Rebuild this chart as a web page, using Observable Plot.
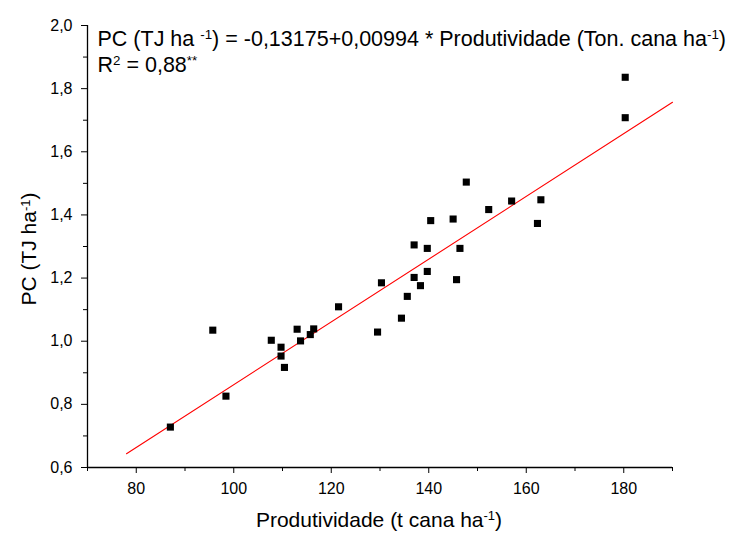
<!DOCTYPE html>
<html>
<head>
<meta charset="utf-8">
<script src="https://cdn.jsdelivr.net/npm/d3@7"></script>
<script src="https://cdn.jsdelivr.net/npm/@observablehq/plot@0.6"></script>
<style>
  html, body { margin: 0; padding: 0; background: #fff; }
</style>
</head>
<body>
<div id="chart"></div>
<script>
const productivity = [87.0, 95.7, 98.4, 107.7, 109.7, 109.7, 110.4, 113.0, 113.7, 115.7, 116.4, 121.5,
  129.5, 130.3, 134.4, 135.6, 137.0, 137.0, 138.3, 139.7, 139.7, 140.4, 145.0, 145.7, 146.4, 147.7,
  152.3, 157.0, 162.3, 163.0, 180.3, 180.3];
const pcValues = [0.728, 1.035, 0.826, 1.003, 0.981, 0.953, 0.917, 1.038, 1.001, 1.021, 1.039, 1.109,
  1.029, 1.185, 1.073, 1.142, 1.202, 1.305, 1.176, 1.221, 1.294, 1.382, 1.387, 1.195, 1.294, 1.504,
  1.417, 1.444, 1.373, 1.448, 1.836, 1.708];

// Regression reported on the chart
const intercept = -0.13175;
const slope = 0.00994;
const fitRange = [78, 190];

// Axes
const xMajorTicks = [80, 100, 120, 140, 160, 180];
const xMinorTicks = [70, 90, 110, 130, 150, 170, 190];
const yMajorTicks = [0.6, 0.8, 1.0, 1.2, 1.4, 1.6, 1.8, 2.0];
const yMinorTicks = [0.7, 0.9, 1.1, 1.3, 1.5, 1.7, 1.9];
const xDomain = [70, 190];
const yDomain = [0.6, 2.0];

const points = productivity.map((x, i) => ({x, y: pcValues[i]}));
const fitLine = fitRange.map(x => ({x, y: intercept + slope * x}));
const fmtComma = v => d3.format(".1f")(v).replace(".", ",");

const FONT = "'Liberation Sans', Arial, Helvetica, sans-serif";

const plot = Plot.plot({
  width: 734,
  height: 536,
  marginLeft: 87,
  marginRight: 62,
  marginTop: 25,
  marginBottom: 69,
  style: {fontFamily: FONT, fontSize: "16px", color: "#000", background: "#fff", overflow: "visible"},
  x: {domain: xDomain},
  y: {domain: yDomain},
  marks: [
    Plot.axisX(xMinorTicks, {tickSize: 4, tickFormat: () => "", label: null, stroke: "#000"}),
    Plot.axisX(xMajorTicks, {tickSize: 6, tickPadding: 9, tickFormat: d => String(d), label: null, stroke: "#000", fill: "#000"}),
    Plot.axisY(yMinorTicks, {tickSize: 4, tickFormat: () => "", label: null, stroke: "#000"}),
    Plot.axisY(yMajorTicks, {tickSize: 6, tickPadding: 9, tickFormat: fmtComma, label: null, stroke: "#000", fill: "#000"}),
    Plot.ruleX([xDomain[0]], {stroke: "#000", strokeWidth: 1.3}),
    Plot.ruleY([yDomain[0]], {stroke: "#000", strokeWidth: 1.3}),
    Plot.line(fitLine, {x: "x", y: "y", stroke: "#ff0000", strokeWidth: 1.1}),
    Plot.dot(points, {x: "x", y: "y", symbol: "square", r: 4, fill: "#000", stroke: "none"})
  ]
});

document.getElementById("chart").appendChild(plot);

// Annotations with superscripts
const svg = d3.select(plot);
function richText(parts, attrs) {
  const t = svg.append("text")
    .attr("font-family", FONT)
    .attr("fill", "#000")
    .attr("text-anchor", "start");
  for (const [k, v] of Object.entries(attrs)) t.attr(k, v);
  for (const p of parts) {
    const s = t.append("tspan").text(p.text);
    if (p.sup) s.attr("dy", "-0.5em").attr("font-size", "0.62em");
    else if (p.after) s.attr("dy", "0.31em");
  }
  return t;
}

richText([
  {text: "PC (TJ ha "}, {text: "-1", sup: true}, {text: ") = -0,13175+0,00994 * Produtividade (Ton. cana ha", after: true},
  {text: "-1", sup: true}, {text: ")", after: true}
], {x: 97.5, y: 46, "font-size": 21.5});

richText([
  {text: "R"}, {text: "2", sup: true}, {text: " = 0,88", after: true}, {text: "**", sup: true}
], {x: 97.5, y: 72, "font-size": 21.5});

richText([
  {text: "Produtividade (t cana ha"}, {text: "-1", sup: true}, {text: ")", after: true}
], {x: 379, y: 527, "font-size": 21, "text-anchor": "middle"});

richText([
  {text: "PC (TJ ha"}, {text: "-1", sup: true}, {text: ")", after: true}
], {transform: "translate(36,249) rotate(-90)", x: 0, y: 0, "font-size": 21, "text-anchor": "middle"});
</script>
</body>
</html>
